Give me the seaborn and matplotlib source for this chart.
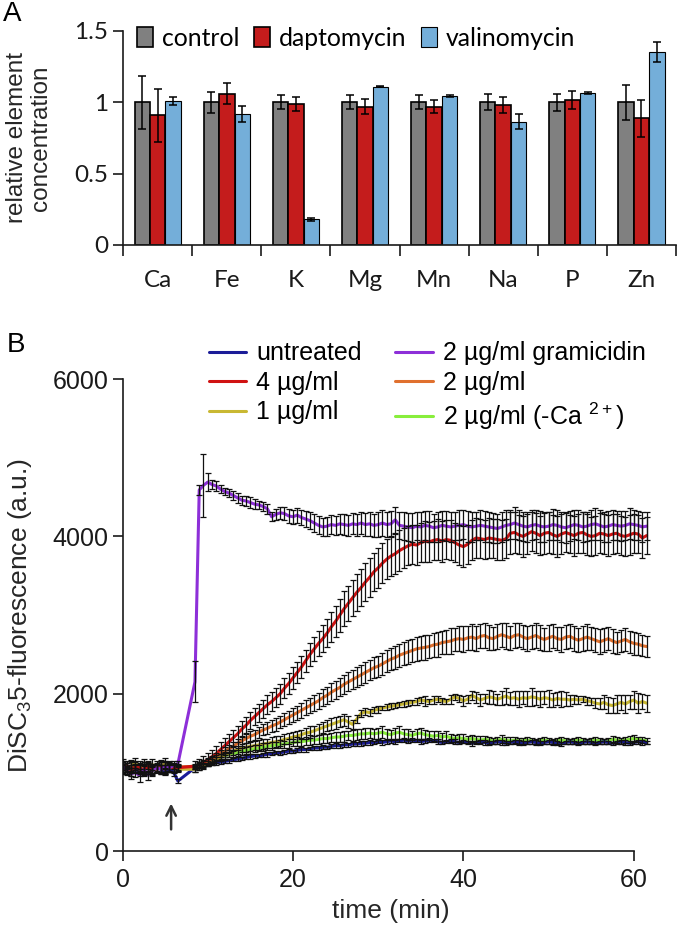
import matplotlib
matplotlib.use("Agg")
import matplotlib.pyplot as plt
import numpy as np
import pandas as pd
import seaborn as sns

# ---------------- panel A: element concentrations ----------------
elements = ["Ca", "Fe", "K", "Mg", "Mn", "Na", "P", "Zn"]
treatments = ["control", "daptomycin", "valinomycin"]
control = [1.00, 1.00, 1.00, 1.00, 1.00, 1.00, 1.00, 1.00]
control_err = [0.185, 0.075, 0.05, 0.05, 0.05, 0.056, 0.06, 0.122]
dapto = [0.91, 1.06, 0.988, 0.97, 0.97, 0.98, 1.016, 0.888]
dapto_err = [0.186, 0.073, 0.047, 0.05, 0.047, 0.055, 0.063, 0.128]
valino = [1.009, 0.92, 0.181, 1.11, 1.044, 0.865, 1.063, 1.353]
valino_err = [0.03, 0.057, 0.01, 0.005, 0.006, 0.055, 0.006, 0.07]

# ---------------- panel B: DiSC3(5) fluorescence time course ----------------
series_names = ["untreated", "4 µg/ml", "1 µg/ml",
                "2 µg/ml gramicidin", "2 µg/ml", "2 µg/ml (-Ca $^{\\mathregular{2+}}$)"]

time_min = [
    0.0, 0.5, 1.0, 1.5, 2.0, 2.5, 3.0, 3.5, 4.0, 4.5, 5.0, 5.5, 6.0, 6.5,
    8.5, 9.0, 9.5, 10.0, 10.5, 11.0, 11.5, 12.0, 12.5, 13.0,
    13.5, 14.0, 14.5, 15.0, 15.5, 16.0, 16.5, 17.0, 17.5, 18.0,
    18.5, 19.0, 19.5, 20.0, 20.5, 21.0, 21.5, 22.0, 22.5, 23.0,
    23.5, 24.0, 24.5, 25.0, 25.5, 26.0, 26.5, 27.0, 27.5, 28.0,
    28.5, 29.0, 29.5, 30.0, 30.5, 31.0, 31.5, 32.0, 32.5, 33.0,
    33.5, 34.0, 34.5, 35.0, 35.5, 36.0, 36.5, 37.0, 37.5, 38.0,
    38.5, 39.0, 39.5, 40.0, 40.5, 41.0, 41.5, 42.0, 42.5, 43.0,
    43.5, 44.0, 44.5, 45.0, 45.5, 46.0, 46.5, 47.0, 47.5, 48.0,
    48.5, 49.0, 49.5, 50.0, 50.5, 51.0, 51.5, 52.0, 52.5, 53.0,
    53.5, 54.0, 54.5, 55.0, 55.5, 56.0, 56.5, 57.0, 57.5, 58.0,
    58.5, 59.0, 59.5, 60.0, 60.5, 61.0, 61.5]

untreated = [
    1060, 1020, 1080, 1040, 1000, 1050, 1070, 1030, 1060, 1040, 1010, 1050, 1000, 890,
    1060, 1080, 1090, 1100, 1110, 1120, 1130, 1140, 1150, 1160,
    1170, 1180, 1190, 1200, 1210, 1210, 1220, 1230, 1240, 1250,
    1250, 1260, 1270, 1270, 1280, 1290, 1290, 1300, 1310, 1310,
    1320, 1320, 1330, 1340, 1340, 1350, 1350, 1360, 1360, 1370,
    1370, 1380, 1380, 1390, 1380, 1390, 1400, 1390, 1400, 1410,
    1400, 1410, 1400, 1390, 1400, 1410, 1400, 1390, 1380, 1390,
    1400, 1390, 1380, 1390, 1380, 1370, 1380, 1390, 1380, 1370,
    1380, 1390, 1380, 1370, 1380, 1390, 1380, 1370, 1380, 1390,
    1380, 1370, 1380, 1390, 1380, 1370, 1360, 1380, 1390, 1380,
    1370, 1380, 1390, 1380, 1370, 1380, 1390, 1380, 1370, 1380,
    1390, 1380, 1370, 1380, 1390, 1380, 1380]
untreated_err = [
    50, 40, 60, 50, 40, 60, 50, 40, 50, 60, 40, 50, 40, 20,
    20, 25, 20, 25, 20, 20, 25, 20, 25, 20,
    25, 20, 25, 30, 25, 20, 25, 30, 25, 20,
    25, 30, 25, 20, 25, 30, 25, 20, 25, 30,
    25, 20, 25, 30, 25, 30, 25, 20, 25, 30,
    25, 30, 25, 20, 30, 25, 30, 25, 20, 25,
    30, 25, 20, 25, 30, 25, 20, 30, 25, 20,
    25, 30, 25, 20, 25, 30, 25, 20, 30, 25,
    20, 25, 30, 25, 20, 25, 30, 25, 20, 25,
    30, 25, 20, 25, 30, 25, 20, 25, 30, 25,
    20, 25, 30, 25, 20, 25, 30, 25, 20, 25,
    25, 30, 25, 20, 25, 30, 25]

dap4 = [
    1050, 1090, 1030, 1070, 1060, 1020, 1080, 1050, 1040, 1070, 1060, 1080, 1050, 1060,
    1080, 1100, 1130, 1160, 1200, 1240, 1290, 1340, 1390, 1440,
    1490, 1550, 1600, 1660, 1710, 1760, 1810, 1860, 1900, 1950,
    2000, 2070, 2130, 2200, 2270, 2340, 2420, 2500, 2570, 2640,
    2700, 2770, 2850, 2920, 3000, 3080, 3150, 3220, 3290, 3350,
    3420, 3480, 3550, 3600, 3660, 3710, 3750, 3780, 3820, 3850,
    3880, 3900, 3890, 3920, 3940, 3930, 3950, 3960, 3940, 3960,
    3950, 3920, 3890, 3870, 3900, 3950, 3980, 3970, 3960, 3980,
    3970, 3960, 3950, 3970, 4040, 4050, 4020, 4000, 4030, 4060,
    4040, 4010, 4040, 4050, 4020, 4000, 4030, 4050, 4030, 4010,
    4040, 4050, 4020, 4000, 4010, 4040, 4030, 4010, 4030, 4040,
    4010, 4000, 4020, 4040, 4030, 3980, 4010]
dap4_err = [
    60, 50, 70, 60, 50, 60, 70, 60, 50, 60, 70, 60, 50, 40,
    70, 75, 80, 85, 90, 90, 95, 95, 100, 100,
    100, 105, 105, 110, 110, 115, 115, 120, 120, 125,
    125, 130, 130, 135, 135, 140, 140, 145, 150, 155,
    170, 180, 190, 200, 210, 220, 225, 230, 235, 240,
    240, 245, 245, 250, 250, 255, 250, 255, 260, 255,
    250, 245, 255, 250, 260, 250, 245, 255, 260, 250,
    255, 250, 260, 265, 250, 255, 260, 250, 245, 255,
    250, 260, 255, 250, 265, 255, 250, 260, 255, 250,
    255, 250, 260, 255, 250, 260, 255, 250, 245, 255,
    250, 255, 260, 250, 245, 255, 250, 260, 255, 250,
    245, 250, 255, 250, 245, 250, 240]

dap1 = [
    1100, 1060, 1080, 1120, 1050, 1090, 1070, 1100, 1060, 1080, 1110, 1070, 1050, 1040,
    1040, 1060, 1080, 1110, 1130, 1160, 1190, 1220, 1240, 1270,
    1290, 1310, 1320, 1330, 1340, 1350, 1360, 1370, 1380, 1390,
    1400, 1420, 1430, 1450, 1460, 1480, 1500, 1510, 1530, 1550,
    1570, 1590, 1610, 1630, 1650, 1670, 1640, 1610, 1680, 1750,
    1770, 1760, 1790, 1800, 1820, 1830, 1840, 1850, 1860, 1870,
    1880, 1890, 1900, 1920, 1910, 1900, 1920, 1930, 1910, 1900,
    1930, 1960, 1940, 1910, 1930, 1980, 1950, 1920, 1940, 1960,
    1950, 1930, 1950, 1970, 1940, 1950, 1930, 1950, 1940, 1960,
    1950, 1930, 1950, 1940, 1920, 1940, 1930, 1930, 1920, 1930,
    1920, 1930, 1910, 1900, 1880, 1870, 1890, 1860, 1850, 1870,
    1890, 1870, 1900, 1920, 1880, 1900, 1880]
dap1_err = [
    70, 60, 80, 60, 70, 80, 60, 70, 60, 80, 70, 60, 50, 40,
    30, 30, 35, 35, 40, 40, 45, 45, 50, 50,
    50, 55, 55, 60, 55, 60, 65, 60, 65, 70,
    60, 65, 70, 65, 70, 60, 70, 75, 65, 70,
    75, 70, 75, 80, 70, 75, 80, 60, 50, 40,
    45, 40, 35, 40, 30, 35, 40, 35, 30, 40,
    35, 30, 40, 35, 60, 30, 45, 35, 40, 30,
    55, 40, 45, 60, 50, 60, 70, 80, 60, 90,
    80, 70, 90, 100, 80, 90, 100, 80, 90, 110,
    90, 100, 80, 110, 90, 80, 100, 90, 70, 60,
    50, 40, 50, 40, 60, 70, 90, 100, 90, 110,
    100, 120, 90, 110, 130, 100, 110]

gramicidin = [
    1090, 1020, 980, 1000, 960, 1040, 970, 1020, 1060, 1040, 1080, 1060, 1090, 1110,
    2150, 4590, 4650, 4690, 4660, 4640, 4600, 4570, 4550, 4520,
    4490, 4460, 4450, 4430, 4410, 4400, 4380, 4350, 4250, 4280,
    4300, 4290, 4260, 4250, 4270, 4240, 4220, 4200, 4170, 4140,
    4120, 4130, 4150, 4140, 4160, 4150, 4140, 4160, 4150, 4170,
    4150, 4160, 4140, 4150, 4170, 4150, 4160, 4210, 4140, 4130,
    4120, 4110, 4130, 4120, 4140, 4130, 4110, 4120, 4140, 4130,
    4120, 4130, 4140, 4150, 4130, 4120, 4130, 4140, 4130, 4120,
    4110, 4100, 4120, 4140, 4150, 4170, 4150, 4130, 4120, 4140,
    4150, 4130, 4120, 4130, 4150, 4140, 4120, 4110, 4130, 4150,
    4140, 4120, 4130, 4150, 4160, 4140, 4120, 4130, 4150, 4140,
    4130, 4140, 4160, 4150, 4140, 4120, 4130]
gramicidin_err = [
    60, 50, 70, 60, 80, 60, 70, 60, 50, 60, 70, 60, 50, 40,
    260, 60, 400, 110, 60, 60, 50, 50, 55, 60,
    60, 55, 60, 65, 60, 55, 60, 65, 60, 70,
    75, 80, 85, 90, 95, 100, 105, 110, 110, 115,
    120, 120, 125, 125, 130, 130, 135, 135, 140, 140,
    145, 150, 150, 155, 160, 160, 165, 170, 170, 175,
    180, 185, 180, 190, 185, 195, 180, 190, 185, 190,
    195, 180, 190, 185, 195, 190, 180, 190, 195, 185,
    190, 180, 195, 190, 185, 200, 190, 185, 195, 190,
    185, 195, 190, 180, 195, 190, 185, 195, 190, 185,
    190, 195, 185, 190, 200, 190, 185, 195, 190, 185,
    190, 185, 195, 190, 185, 190, 180]

dap2 = [
    1070, 1030, 1060, 1090, 1040, 1070, 1050, 1030, 1080, 1060, 1040, 1070, 1060, 1070,
    1070, 1090, 1110, 1140, 1170, 1200, 1240, 1270, 1300, 1330,
    1370, 1400, 1430, 1460, 1480, 1510, 1540, 1560, 1590, 1610,
    1640, 1670, 1700, 1730, 1760, 1790, 1820, 1850, 1880, 1910,
    1950, 1980, 2020, 2050, 2080, 2120, 2150, 2180, 2210, 2240,
    2270, 2300, 2330, 2350, 2380, 2410, 2440, 2460, 2490, 2510,
    2530, 2550, 2570, 2580, 2590, 2600, 2620, 2630, 2650, 2660,
    2670, 2690, 2700, 2690, 2710, 2720, 2700, 2730, 2740, 2710,
    2700, 2730, 2750, 2730, 2710, 2740, 2750, 2720, 2700, 2720,
    2740, 2710, 2690, 2710, 2730, 2700, 2690, 2720, 2730, 2700,
    2680, 2700, 2720, 2700, 2680, 2660, 2680, 2700, 2670, 2650,
    2670, 2690, 2660, 2640, 2630, 2610, 2600]
dap2_err = [
    60, 50, 70, 60, 50, 60, 70, 50, 60, 70, 60, 50, 60, 40,
    30, 35, 35, 40, 40, 45, 45, 50, 50, 55,
    55, 60, 60, 65, 65, 70, 70, 75, 75, 80,
    80, 85, 85, 90, 90, 95, 95, 100, 100, 105,
    105, 110, 110, 115, 115, 120, 120, 125, 125, 130,
    130, 130, 135, 135, 140, 140, 140, 145, 145, 150,
    150, 150, 155, 150, 160, 150, 155, 160, 150, 155,
    160, 150, 155, 165, 150, 160, 155, 150, 165, 160,
    150, 160, 155, 165, 150, 160, 150, 155, 160, 150,
    155, 160, 150, 165, 155, 150, 160, 155, 150, 160,
    150, 155, 160, 150, 155, 160, 150, 145, 150, 140,
    145, 150, 140, 145, 140, 135, 130]

dap2_noca = [
    1040, 1070, 1020, 1060, 1080, 1040, 1060, 1030, 1050, 1070, 1040, 1060, 1050, 1060,
    1080, 1100, 1120, 1140, 1160, 1180, 1200, 1210, 1230, 1240,
    1250, 1270, 1280, 1290, 1300, 1310, 1320, 1330, 1340, 1350,
    1360, 1360, 1370, 1380, 1390, 1390, 1400, 1410, 1410, 1420,
    1430, 1430, 1440, 1450, 1450, 1460, 1470, 1470, 1480, 1490,
    1490, 1500, 1490, 1500, 1510, 1490, 1480, 1500, 1510, 1490,
    1480, 1470, 1490, 1500, 1480, 1470, 1460, 1470, 1450, 1460,
    1440, 1430, 1440, 1430, 1420, 1430, 1420, 1410, 1420, 1410,
    1400, 1410, 1420, 1410, 1400, 1410, 1400, 1400, 1410, 1400,
    1390, 1400, 1410, 1400, 1390, 1400, 1410, 1400, 1390, 1400,
    1410, 1400, 1390, 1400, 1410, 1400, 1390, 1400, 1420, 1410,
    1400, 1410, 1420, 1430, 1420, 1410, 1400]
dap2_noca_err = [
    60, 50, 70, 50, 60, 70, 50, 60, 50, 70, 60, 50, 60, 40,
    30, 30, 35, 30, 35, 40, 35, 40, 35, 40,
    40, 45, 40, 50, 45, 40, 50, 45, 50, 40,
    50, 45, 55, 50, 60, 50, 55, 60, 50, 55,
    60, 55, 60, 65, 60, 70, 60, 65, 70, 60,
    70, 65, 60, 70, 75, 60, 65, 70, 80, 65,
    70, 60, 65, 70, 60, 55, 60, 50, 55, 60,
    50, 45, 50, 55, 45, 40, 45, 50, 40, 45,
    40, 45, 50, 40, 45, 40, 35, 40, 45, 40,
    35, 40, 45, 40, 35, 40, 45, 40, 35, 40,
    45, 40, 35, 40, 45, 40, 35, 40, 45, 40,
    35, 40, 45, 40, 35, 40, 35]

line_colors = {
    "untreated": "#1b1c98",
    "4 µg/ml": "#d01212",
    "1 µg/ml": "#c9b833",
    "2 µg/ml gramicidin": "#8d2fd8",
    "2 µg/ml": "#e0702e",
    "2 µg/ml (-Ca $^{\\mathregular{2+}}$)": "#88ee3c",
}
bar_colors = {"control": "#808080", "daptomycin": "#e00000", "valinomycin": "#63b1ea"}

sns.set_style("ticks")
plt.rcParams["font.family"] = ["Liberation Sans", "DejaVu Sans"]
plt.rcParams["mathtext.fontset"] = "custom"
plt.rcParams["mathtext.rm"] = "Liberation Sans"
plt.rcParams["axes.edgecolor"] = "#1a1a1a"
plt.rcParams["xtick.color"] = "#1a1a1a"
plt.rcParams["ytick.color"] = "#1a1a1a"
plt.rcParams["text.color"] = "black"

fig = plt.figure(figsize=(6.77, 9.30), dpi=100)
ax_a = fig.add_axes([0.182, 0.7366, 0.8164, 0.2301])
ax_b = fig.add_axes([0.181, 0.0849, 0.793, 0.5075])

# ---------- panel A ----------
calibri_like = ["Lato", "DejaVu Sans"]
df_a = pd.DataFrame({
    "element": elements * 3,
    "treatment": np.repeat(treatments, len(elements)),
    "value": control + dapto + valino,
    "err": control_err + dapto_err + valino_err,
})
sns.barplot(data=df_a, x="element", y="value", hue="treatment", hue_order=treatments,
            palette=bar_colors, width=0.67, edgecolor="black", linewidth=1.2,
            errorbar=None, legend=False, ax=ax_a)
for cont, name in zip(ax_a.containers, treatments):
    sub = df_a[df_a["treatment"] == name]
    xs = [b.get_x() + b.get_width() / 2 for b in cont]
    if name == "valinomycin":
        for b in cont:
            b.set_linewidth(0.8)
    ax_a.errorbar(xs, sub["value"], yerr=sub["err"], fmt="none", ecolor="black",
                  elinewidth=1.1, capsize=2.6, capthick=1.1, zorder=4)

ax_a.set_xlim(-0.5, 7.5)
ax_a.set_ylim(0, 1.5)
ax_a.set_yticks([0, 0.5, 1, 1.5])
ax_a.set_yticklabels(["0", "0.5", "1", "1.5"], family=calibri_like, fontsize=17.5)
ax_a.set_xticks(range(len(elements)))
ax_a.set_xticklabels(elements, family=calibri_like, fontsize=17.5)
ax_a.set_xticks(np.arange(-0.5, len(elements), 1), minor=True)
ax_a.tick_params(axis="x", which="major", length=0, pad=18)
ax_a.tick_params(axis="x", which="minor", length=8, width=1.2, direction="out")
ax_a.tick_params(axis="y", length=7, width=1.2, pad=4)
for s in ["top", "right"]:
    ax_a.spines[s].set_visible(False)
for s in ["left", "bottom"]:
    ax_a.spines[s].set_linewidth(1.2)
ax_a.set_xlabel("")
ax_a.set_ylabel("relative element\nconcentration", fontsize=17.5, linespacing=1.15)
ax_a.yaxis.set_label_coords(-0.128, 0.5)
ax_a.legend(ax_a.containers, treatments, ncol=3, loc="upper left",
            bbox_to_anchor=(0.025, 1.02), frameon=False,
            prop={"family": calibri_like, "size": 17.8},
            handlelength=0.65, handleheight=0.9, handletextpad=0.35,
            columnspacing=0.6, borderpad=0, borderaxespad=0)

# ---------- panel B ----------
df_b = pd.DataFrame({
    "time": time_min * len(series_names),
    "series": np.repeat(series_names, len(time_min)),
    "value": untreated + dap4 + dap1 + gramicidin + dap2 + dap2_noca,
    "err": untreated_err + dap4_err + dap1_err + gramicidin_err + dap2_err + dap2_noca_err,
})

draw_order = ["2 µg/ml (-Ca $^{\\mathregular{2+}}$)", "untreated", "1 µg/ml",
              "2 µg/ml", "4 µg/ml", "2 µg/ml gramicidin"]
handles = {}
for name in draw_order:
    sub = df_b[df_b["series"] == name]
    n0 = len(ax_b.lines)
    sns.lineplot(data=sub, x="time", y="value", color=line_colors[name], lw=2.2,
                 sort=False, errorbar=None, legend=False, ax=ax_b, zorder=2)
    handles[name] = ax_b.lines[n0]
for name in draw_order:
    sub = df_b[df_b["series"] == name]
    ax_b.errorbar(sub["time"], sub["value"], yerr=sub["err"], fmt="none",
                  ecolor="#111111", elinewidth=0.9, capsize=2.3, capthick=0.9, zorder=3)

ax_b.annotate("", xy=(5.7, 640), xytext=(5.7, 240),
              arrowprops=dict(arrowstyle="->", lw=1.8, color="#333333", mutation_scale=17))

ax_b.set_xlim(0, 63)
ax_b.set_ylim(0, 6000)
ax_b.set_xticks([0, 20, 40, 60])
ax_b.set_yticks([0, 2000, 4000, 6000])
ax_b.tick_params(axis="both", labelsize=18, length=7, width=1.2)
ax_b.tick_params(axis="x", pad=5)
ax_b.tick_params(axis="y", pad=3)
for s in ["top", "right"]:
    ax_b.spines[s].set_visible(False)
for s in ["left", "bottom"]:
    ax_b.spines[s].set_linewidth(1.2)
ax_b.spines["bottom"].set_bounds(0, 60)
ax_b.set_xlabel("time (min)", fontsize=19, labelpad=5)
ax_b.set_ylabel(r"DiSC$_\mathregular{3}$5-fluorescence (a.u.)", fontsize=19)
ax_b.yaxis.set_label_coords(-0.165, 0.5)

legend_order = ["untreated", "4 µg/ml", "1 µg/ml",
                "2 µg/ml gramicidin", "2 µg/ml", "2 µg/ml (-Ca $^{\\mathregular{2+}}$)"]
ax_b.legend([handles[n] for n in legend_order], legend_order, ncol=2,
            loc="upper left", bbox_to_anchor=(0.308, 0.633),
            bbox_transform=fig.transFigure, frameon=False, fontsize=18,
            handlelength=1.5, handletextpad=0.4, columnspacing=1.35,
            labelspacing=0.22, borderpad=0, borderaxespad=0)

fig.text(0.004, 0.999, "A", fontsize=20, va="top", ha="left")
fig.text(0.010, 0.643, "B", fontsize=20, va="top", ha="left")

fig.savefig("out.png", dpi=100)
